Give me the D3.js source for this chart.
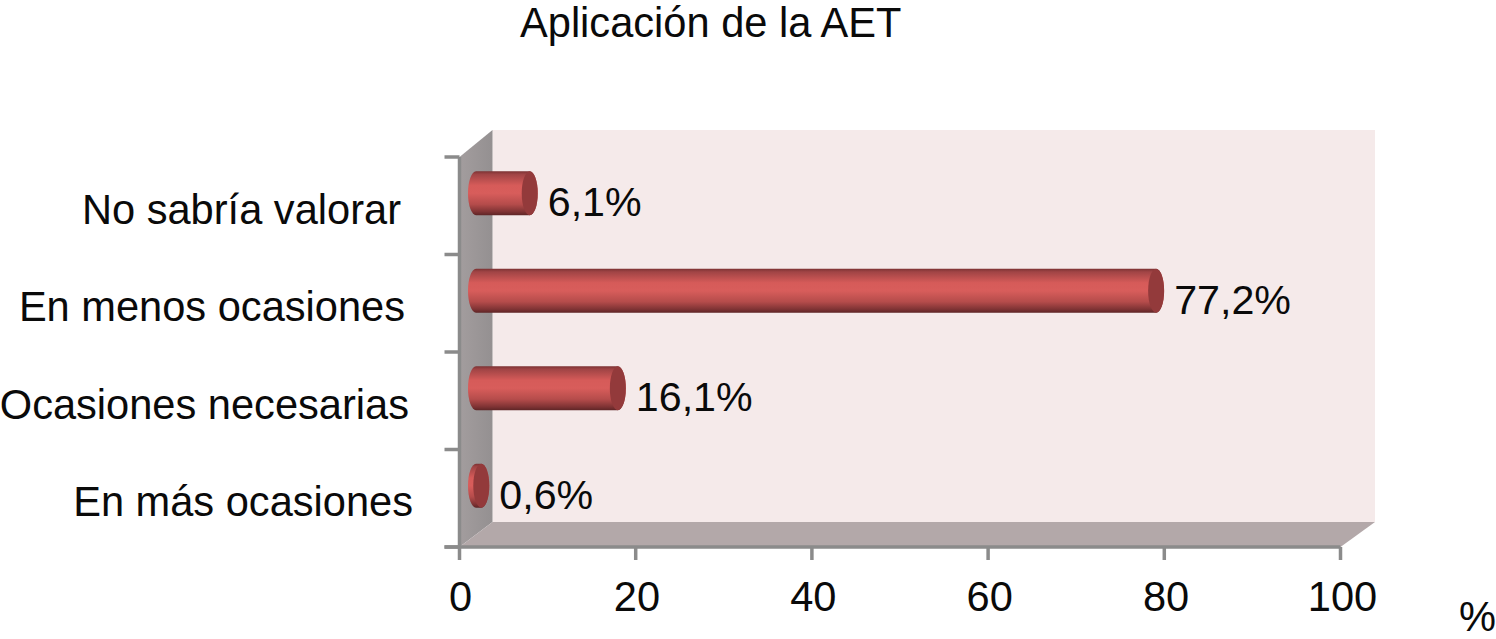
<!DOCTYPE html>
<html><head><meta charset="utf-8">
<script src="https://cdn.jsdelivr.net/npm/d3@7/dist/d3.min.js"></script>
<style>html,body{margin:0;background:#fff}svg{display:block}text{font-family:"Liberation Sans",Arial,sans-serif;fill:#0a0a0a}</style>
</head><body><svg id="c" width="1496" height="639"></svg>
<script>
const categories = ["En más ocasiones","Ocasiones necesarias","En menos ocasiones","No sabría valorar"];
const values = [0.6,16.1,77.2,6.1];
const valueLabels = ["0,6%","16,1%","77,2%","6,1%"];
const xTicks = [0,20,40,60,80,100];
const titleText = "Aplicación de la AET";
const unitText = "%";

const W=1496,H=639,fs=41.6;
const svg=d3.select("#c");
const x=d3.scaleLinear().domain([0,100]).range([459.5,1340.5]);
const y=d3.scaleBand().domain(categories).range([547,157]);
const dx=33,dy=-25;
const x0=x(0),x1=x(100),yb=y.range()[0],yt=y.range()[1];

const defs=svg.append("defs");
const g=defs.append("linearGradient").attr("id","cyl").attr("x1",0).attr("x2",0).attr("y1",0).attr("y2",1);
[[0,"#7c3233"],[0.07,"#a04445"],[0.32,"#d65b59"],[0.5,"#d85d5b"],[0.75,"#b54c4b"],[0.92,"#7f3334"],[1,"#5e2526"]]
 .forEach(([o,c])=>g.append("stop").attr("offset",o).attr("stop-color",c));
const w=defs.append("linearGradient").attr("id","wall").attr("x1",0).attr("x2",1).attr("y1",0).attr("y2",0);
[[0,"#a39d9e"],[1,"#949091"]].forEach(([o,c])=>w.append("stop").attr("offset",o).attr("stop-color",c));

const poly=(p,f)=>svg.append("polygon").attr("points",p.map(d=>d.join(",")).join(" ")).attr("fill",f);
// back wall, side wall, floor
poly([[x0+dx,yt+dy-2],[x1+dx+1.5,yt+dy-2],[x1+dx+1.5,yb+dy],[x0+dx,yb+dy]],"#f5eaea");
poly([[x0,yt],[x0+dx,yt+dy-2],[x0+dx,yb+dy],[x0,yb]],"url(#wall)");
poly([[x0,yb],[x0+dx,yb+dy],[x1+dx+1.5,yb+dy],[x1,yb]],"#b3a8a9");

// axes
const ax="#8b8b8b";
svg.append("line").attr("x1",x0).attr("x2",x0).attr("y1",yt).attr("y2",yb).attr("stroke",ax).attr("stroke-width",3.5);
svg.append("line").attr("x1",x0-15).attr("x2",x1).attr("y1",yb).attr("y2",yb).attr("stroke",ax).attr("stroke-width",3.5);
svg.selectAll(".yt").data(d3.range(categories.length+1)).join("line")
 .attr("x1",x0-15).attr("x2",x0)
 .attr("y1",i=>yb-i*y.step()).attr("y2",i=>yb-i*y.step())
 .attr("stroke",ax).attr("stroke-width",3.5);
svg.selectAll(".xt").data(xTicks).join("line")
 .attr("x1",d=>x(d)).attr("x2",d=>x(d)).attr("y1",yb).attr("y2",yb+13)
 .attr("stroke",ax).attr("stroke-width",3.5);
svg.selectAll(".xl").data(xTicks).join("text")
 .attr("x",d=>x(d)+1+d*0.01).attr("y",611).attr("text-anchor","middle").attr("font-size",fs).text(d=>d);

// bars
const rx=8, barH=44;
const cy=c=>y(c)+y.bandwidth()/2+dy/2;
const left=x(0)+dx/2;
const bars=svg.selectAll(".bar").data(categories.map((c,i)=>({c,v:values[i],l:valueLabels[i]}))).join("g");
bars.append("path").attr("fill","url(#cyl)").attr("d",d=>{
  const t=cy(d.c)-barH/2,b=cy(d.c)+barH/2,e=x(d.v)+dx/2;
  return `M${left},${t}L${e},${t}A${rx},${barH/2} 0 0 1 ${e},${b}L${left},${b}A${rx},${barH/2} 0 0 1 ${left},${t}Z`;
});
bars.append("ellipse").attr("cx",d=>x(d.v)+dx/2).attr("cy",d=>cy(d.c))
 .attr("rx",rx).attr("ry",barH/2).attr("fill","#933a3b");
bars.append("text").attr("font-size",41.2)
 .attr("x",d=>x(d.v)+dx/2+18).attr("y",d=>cy(d.c)+23).text(d=>d.l);

// category labels
svg.selectAll(".cat").data(categories).join("text")
 .attr("font-size",fs).attr("text-anchor","end")
 .attr("x",(c,i)=>413-i*4).attr("y",c=>cy(c)+30.5).text(c=>c);

svg.append("text").attr("font-size",fs).attr("x",520).attr("y",37).text(titleText);
svg.append("text").attr("font-size",fs).attr("x",1459).attr("y",631).text(unitText);
</script></body></html>
